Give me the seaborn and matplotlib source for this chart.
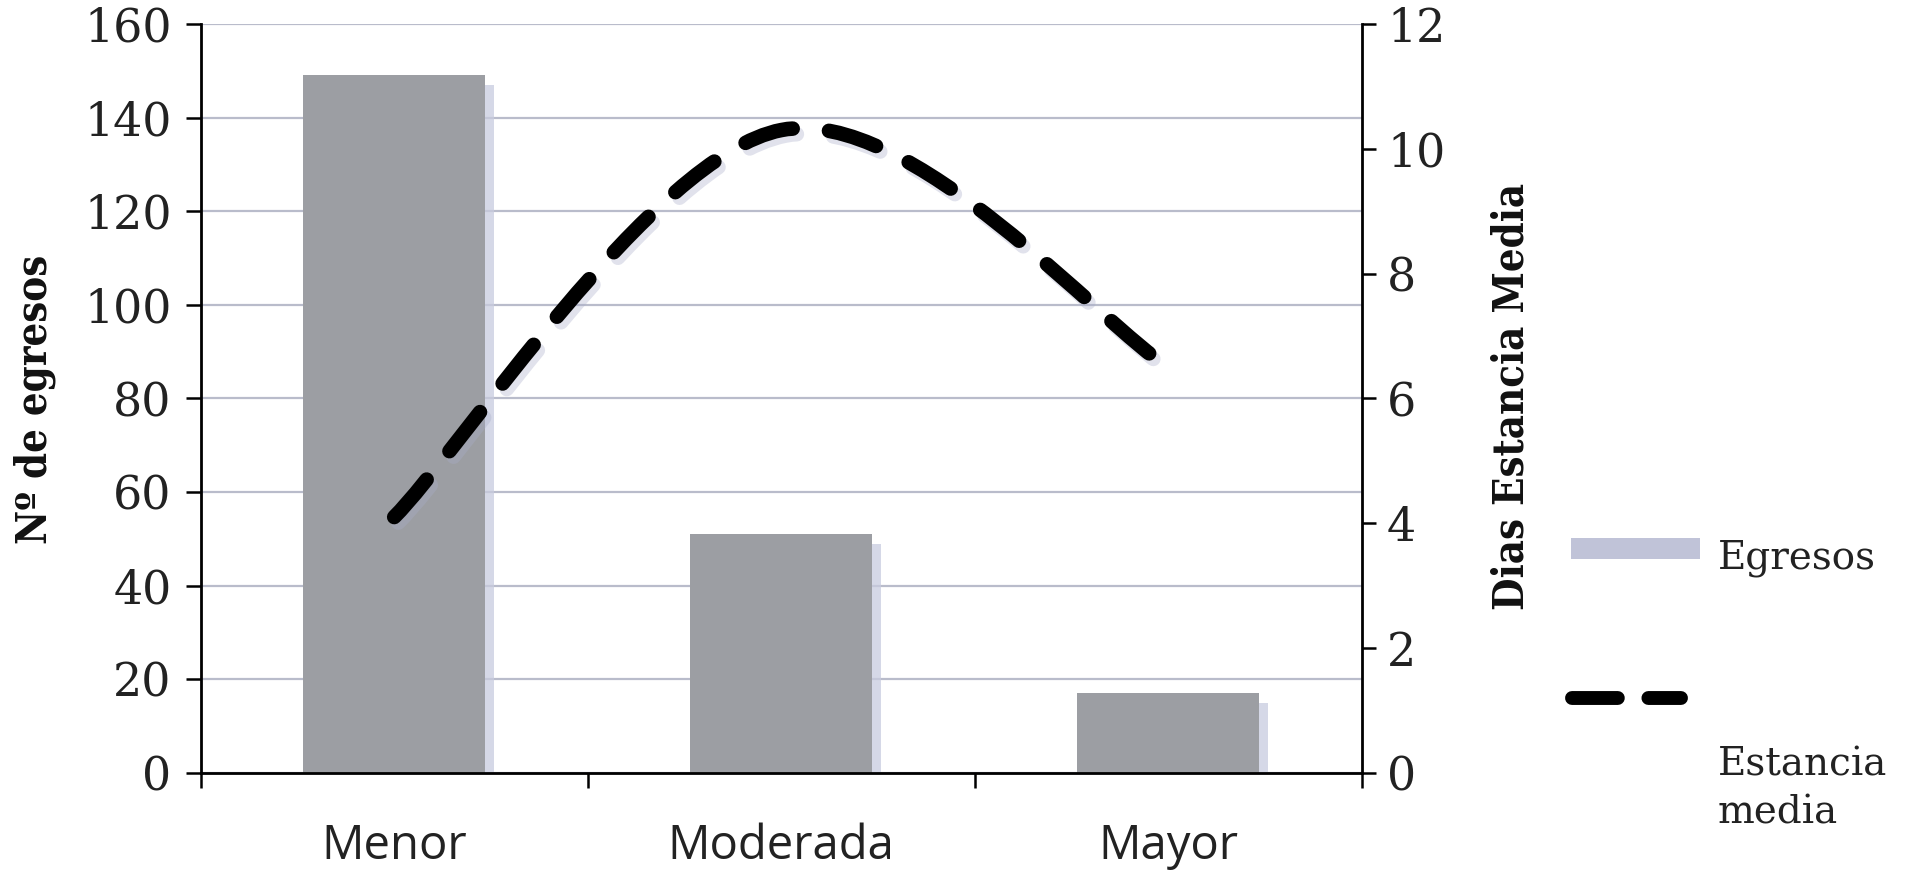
import numpy as np
import pandas as pd
import matplotlib
matplotlib.use("Agg")
import matplotlib.pyplot as plt
import seaborn as sns
from matplotlib.path import Path
from matplotlib.patches import PathPatch, Rectangle
from matplotlib.lines import Line2D
import matplotlib.patheffects as pe

# --- data -------------------------------------------------------------
categorias = ["Menor", "Moderada", "Mayor"]
egresos = [149, 51, 17]
estancia_media = [4.1, 10.3, 6.5]
ticks_egresos = [0, 20, 40, 60, 80, 100, 120, 140, 160]
ticks_estancia = [0, 2, 4, 6, 8, 10, 12]

# --- style ------------------------------------------------------------
sns.set_theme(style="white")
plt.rcParams["font.family"] = ["DejaVu Serif", "DejaVu Sans"]

BAR = "#9c9ea3"
BAR_SHADOW = "#c8cbdf"
GRID = "#b9bccb"
LEG_PATCH = "#c0c3d8"
TICK_FONT = dict(family="DejaVu Serif", size=33, color="#222222")

fig = plt.figure(figsize=(19.11, 8.74), dpi=100)
ax = fig.add_axes([0.105, 0.1156, 0.6077, 0.857])

df = pd.DataFrame({"categoria": categorias, "egresos": egresos})
sns.barplot(data=df, x="categoria", y="egresos", color=BAR, width=0.47,
            saturation=1, ax=ax, zorder=2)
for bar in ax.patches:
    bar.set_edgecolor("none")
    bar.set_path_effects([
        pe.SimplePatchShadow(offset=(6, -7), shadow_rgbFace=BAR_SHADOW, alpha=0.75),
        pe.Normal(),
    ])

ax.set_xlim(-0.5, 2.5)
ax.set_ylim(0, 160)
ax.set_yticks(ticks_egresos)
ax.set_yticklabels([str(t) for t in ticks_egresos], fontdict=TICK_FONT)
ax.yaxis.grid(True, color=GRID, linewidth=1.6)
ax.xaxis.grid(False)
ax.set_axisbelow(True)
ax.set_xlabel("")
ax.set_ylabel("")

# category boundaries carry the tick marks, names sit at minor ticks
ax.set_xticks([-0.5, 0.5, 1.5, 2.5])
ax.set_xticklabels([])
ax.set_xticks([0, 1, 2], minor=True)
ax.set_xticklabels(categorias, minor=True, family="Open Sans", size=34,
                   color="#222222")
ax.tick_params(axis="x", which="major", direction="out", length=11,
               width=1.8, color="black", bottom=True)
ax.tick_params(axis="x", which="minor", length=0, pad=36)
ax.tick_params(axis="y", direction="out", length=11, width=1.8,
               color="black", left=True, pad=10)

for side in ["top", "right"]:
    ax.spines[side].set_visible(False)
for side in ["left", "bottom"]:
    ax.spines[side].set_color("black")
    ax.spines[side].set_linewidth(2.0)

# --- secondary axis: smoothed mean stay --------------------------------
ax2 = ax.twinx()
ax2.set_ylim(0, 12)
ax2.set_yticks(ticks_estancia)
ax2.set_yticklabels([str(t) for t in ticks_estancia], fontdict=TICK_FONT)
ax2.tick_params(axis="y", direction="out", length=10, width=1.8,
                color="black", right=True, pad=8)
ax2.grid(False)
for side in ["top", "left", "bottom"]:
    ax2.spines[side].set_visible(False)
ax2.spines["right"].set_color("black")
ax2.spines["right"].set_linewidth(2.0)

# smooth curve through the points (cubic Bezier, Catmull-Rom tangents)
xs = np.arange(len(estancia_media), dtype=float)
pts = np.column_stack([xs, estancia_media])
verts = [pts[0]]
codes = [Path.MOVETO]
for i in range(len(pts) - 1):
    p_prev = pts[max(i - 1, 0)]
    p0, p1 = pts[i], pts[i + 1]
    p_next = pts[min(i + 2, len(pts) - 1)]
    c1 = p0 + (p1 - p_prev) / 6.0
    c2 = p1 - (p_next - p0) / 6.0
    verts += [c1, c2, p1]
    codes += [Path.CURVE4] * 3
curve = PathPatch(Path(verts, codes), fill=False, edgecolor="black",
                  linewidth=10.5, linestyle=(0, (3.4, 2.5)), zorder=3)
curve.set_capstyle("round")
curve.set_joinstyle("round")
curve.set_path_effects([
    pe.SimpleLineShadow(offset=(3, -4), shadow_color="#a9adc9", alpha=0.35),
    pe.Normal(),
])
ax2.add_patch(curve)

# --- axis titles --------------------------------------------------------
label_font = dict(family="DejaVu Serif", fontstretch="condensed",
                  weight="bold", size=30, color="#111111")
fig.text(35 / 1911, 1 - 399 / 874, "Nº de egresos", rotation=90,
         ha="center", va="center", **label_font)
fig.text(1511 / 1911, 1 - 396 / 874, "Dias Estancia Media", rotation=90,
         ha="center", va="center", **label_font)

# --- legend ---------------------------------------------------------------
fig.add_artist(Rectangle((1571 / 1911, 1 - 559 / 874), 129 / 1911, 21 / 874,
                         transform=fig.transFigure, facecolor=LEG_PATCH,
                         edgecolor="none"))
fig.text(1718 / 1911, 1 - 558 / 874, "Egresos", ha="left", va="center",
         family="DejaVu Serif", size=28, color="#222222")
leg_line = Line2D([1572 / 1911, 1681 / 1911], [1 - 698 / 874, 1 - 698 / 874],
                  transform=fig.transFigure, color="black", linewidth=10,
                  linestyle=(0, (3.3, 2.2)), solid_capstyle="round",
                  dash_capstyle="round")
fig.add_artist(leg_line)
fig.text(1718 / 1911, 1 - 789 / 874, "Estancia\nmedia", ha="left",
         va="center", linespacing=1.4, family="DejaVu Serif", size=28,
         color="#222222")

fig.savefig("out.png", dpi=100)
